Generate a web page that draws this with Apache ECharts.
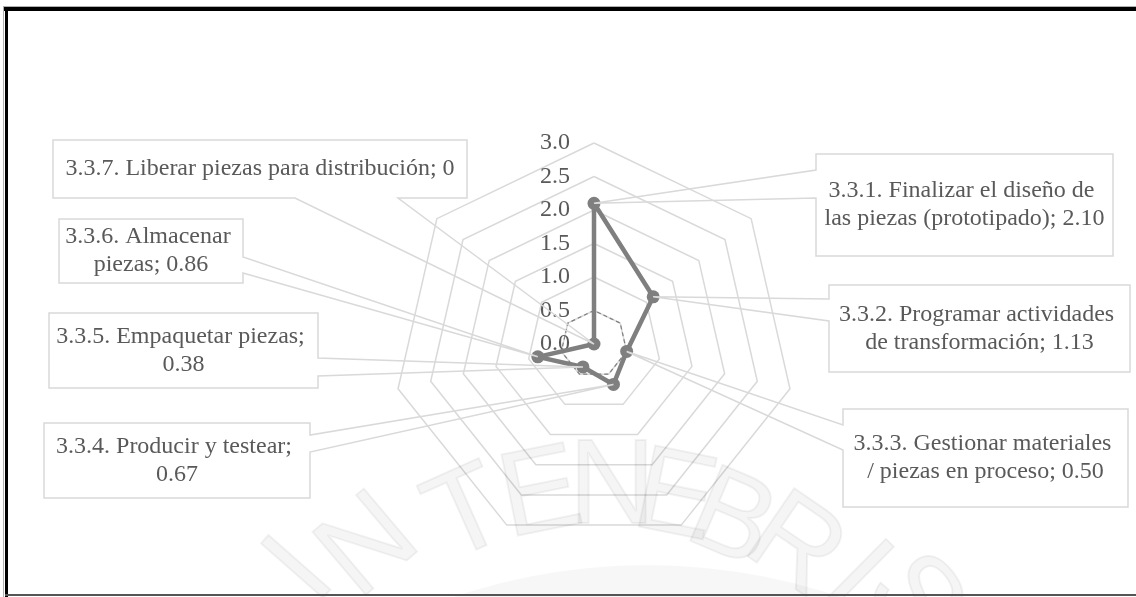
<!DOCTYPE html>
<html>
<head>
<meta charset="utf-8">
<script src="https://cdn.jsdelivr.net/npm/echarts@6/dist/echarts.min.js"></script>
<style>
  html, body { margin: 0; padding: 0; background: #ffffff; }
  #chart { width: 1136px; height: 597px; }
</style>
</head>
<body>
<div id="chart"></div>
<script>
// Activities, listed clockwise starting at the top axis
const categories = [
  '3.3.1. Finalizar el diseño de las piezas (prototipado)',
  '3.3.2. Programar actividades de transformación',
  '3.3.3. Gestionar materiales / piezas en proceso',
  '3.3.4. Producir y testear',
  '3.3.5. Empaquetar piezas',
  '3.3.6. Almacenar piezas',
  '3.3.7. Liberar piezas para distribución'
];
// Score of each activity
const scores = [2.10, 1.13, 0.50, 0.67, 0.38, 0.86, 0];
// Reference level drawn as a thin dashed ring
const referenceLevel = [0.5, 0.5, 0.5, 0.5, 0.5, 0.5, 0.5];
// Radial scale and its tick labels
const axisMin = 0;
const axisMax = 3;
const tickLabels = ['0.0', '0.5', '1.0', '1.5', '2.0', '2.5', '3.0'];

// Callout boxes: [left, top, width, height], the edge the pointer leaves from,
// the two base points of the pointer on that edge, and the text wrap width.
const callouts = [
  { box: [816, 154, 297, 102], side: 'left',   base: [170, 198], wrap: 290 },
  { box: [829, 285, 301, 87],  side: 'left',   base: [299, 321], wrap: 290 },
  { box: [843, 409, 285, 98],  side: 'left',   base: [425, 450], wrap: 264 },
  { box: [44, 423, 266, 75],   side: 'right',  base: [435, 452], wrap: 260 },
  { box: [49, 313, 269, 75],   side: 'right',  base: [358, 376], wrap: 270 },
  { box: [59, 219, 184, 64],   side: 'right',  base: [257, 273], wrap: 180 },
  { box: [53, 140, 414, 58],   side: 'bottom', base: [295, 398], wrap: 460 }
];

const TEXT = '#595959';
const GRID = '#d9d9d9';
const SERIES = '#7f7f7f';
const SERIF = "'Liberation Serif', 'Times New Roman', serif";

// ECharts lays radar indicators out counter-clockwise, so keep the first
// axis on top and walk the rest backwards to read clockwise.
const n = categories.length;
const order = categories.map((_, i) => (i === 0 ? 0 : n - i));
const ordered = arr => order.map(i => arr[i]);

const axisLabelStyle = {
  show: true,
  color: TEXT,
  fontFamily: SERIF,
  fontSize: 24,
  margin: 24,
  formatter: (v, idx) => tickLabels[idx] !== undefined ? tickLabels[idx] : Number(v).toFixed(1)
};

const indicators = order.map((i, k) => {
  const ind = { name: categories[i], min: axisMin, max: axisMax };
  if (k === 0) ind.axisLabel = axisLabelStyle;
  return ind;
});

const fmtValue = v => (v === 0 ? '0' : v.toFixed(2));

const option = {
  animation: false,
  backgroundColor: '#ffffff',
  radar: {
    center: [594, 344],
    radius: 201,
    startAngle: 90,
    shape: 'polygon',
    splitNumber: tickLabels.length - 1,
    indicator: indicators,
    axisName: { show: false },
    axisLine: { show: false },
    axisTick: { show: false },
    axisLabel: Object.assign({}, axisLabelStyle, { show: false }),
    splitArea: { show: false },
    splitLine: { lineStyle: { color: GRID, width: 1.5 } }
  },
  series: [
    {
      type: 'radar',
      z: 2,
      silent: true,
      symbol: 'none',
      lineStyle: { color: SERIES, width: 1.2, type: [4, 3] },
      data: [{ value: ordered(referenceLevel) }]
    },
    {
      type: 'radar',
      z: 3,
      silent: true,
      symbol: 'circle',
      symbolSize: 13,
      itemStyle: { color: SERIES, borderWidth: 0 },
      lineStyle: { color: SERIES, width: 4.5 },
      data: [{ value: ordered(scores) }]
    }
  ]
};

const chart = echarts.init(document.getElementById('chart'), null, { renderer: 'canvas' });
chart.setOption(option);

// Pixel position of every score through the radar coordinate system
const radarCS = chart.getModel().getComponent('radar').coordinateSystem;
const tips = categories.map((_, i) => radarCS.dataToPoint(scores[i], order.indexOf(i)));

function calloutOutline(c, tip) {
  const [l, t, w, h] = c.box;
  const r = l + w, b = t + h;
  const [b1, b2] = c.base;
  if (c.side === 'left') {
    return [[l, t], [r, t], [r, b], [l, b], [l, b2], tip, [l, b1]];
  }
  if (c.side === 'right') {
    return [[l, t], [r, t], [r, b1], tip, [r, b2], [r, b], [l, b]];
  }
  return [[l, t], [r, t], [r, b], [b2, b], tip, [b1, b], [l, b]];
}

const graphics = [];

// Faint emblem in the page background
graphics.push({
  type: 'circle', z: 0, silent: true,
  shape: { cx: 647, cy: 1165, r: 600 },
  style: { fill: 'rgba(0,0,0,0.03)' }
});
const emblem = [
  ['I', 302, 572, 0.85], ['N', 370, 548, 0.7], ['T', 468, 517, 0.42], ['E', 541, 497, 0.2],
  ['N', 612, 490, 0], ['E', 675, 500, -0.2], ['B', 731, 522, -0.4], ['R', 794, 548, -0.6],
  ['I', 855, 578, -0.78], ['S', 912, 602, -0.92]
];
emblem.forEach(([ch, x, y, rot]) => {
  graphics.push({
    type: 'text', z: 0, silent: true, x, y, rotation: rot,
    style: {
      text: ch, x: 0, y: 0, align: 'center', verticalAlign: 'middle',
      font: "120px 'Liberation Sans', sans-serif",
      fill: 'rgba(0,0,0,0.04)',
      stroke: 'rgba(0,0,0,0.05)', lineWidth: 2
    }
  });
});

// Data callouts
callouts.forEach((c, i) => {
  const [l, t, w, h] = c.box;
  graphics.push({
    type: 'rect', z: 5, silent: true,
    shape: { x: l, y: t, width: w, height: h },
    style: { fill: '#ffffff', stroke: null }
  });
  graphics.push({
    type: 'polygon', z: 6, silent: true,
    shape: { points: calloutOutline(c, tips[i]) },
    style: { fill: 'none', stroke: GRID, lineWidth: 1.5 }
  });
  graphics.push({
    type: 'text', z: 7, silent: true,
    style: {
      text: categories[i] + '; ' + fmtValue(scores[i]),
      x: l + w / 2, y: t + h / 2,
      width: c.wrap, overflow: 'break',
      align: 'center', verticalAlign: 'middle',
      font: '24px ' + SERIF, lineHeight: 28,
      fill: TEXT
    }
  });
});

// Page frame
graphics.push(
  { type: 'rect', z: 8, silent: true, shape: { x: 3, y: 6, width: 1133, height: 1 }, style: { fill: '#b0b0b0' } },
  { type: 'rect', z: 8, silent: true, shape: { x: 4, y: 7, width: 1132, height: 4 }, style: { fill: '#000000' } },
  { type: 'rect', z: 8, silent: true, shape: { x: 3, y: 7, width: 1, height: 590 }, style: { fill: '#b0b0b0' } },
  { type: 'rect', z: 8, silent: true, shape: { x: 5, y: 7, width: 3, height: 590 }, style: { fill: '#000000' } },
  { type: 'rect', z: 8, silent: true, shape: { x: 5, y: 594, width: 1131, height: 2 }, style: { fill: '#555555' } }
);

chart.setOption({ graphic: graphics });
</script>
</body>
</html>
